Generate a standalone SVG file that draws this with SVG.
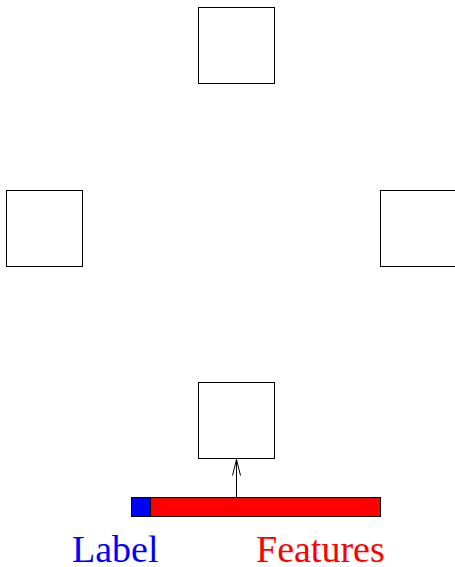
<svg xmlns="http://www.w3.org/2000/svg" width="455" height="567" viewBox="0 0 455 567">
<defs>
<style>
.box{fill:#fff;stroke:#000;stroke-width:1}
.conn{stroke:#000;stroke-width:1;fill:none}
.t{font-family:"Liberation Serif","Times New Roman",serif;font-size:38px}
</style>
<marker id="ah" markerWidth="20" markerHeight="10" refX="17" refY="5" orient="auto" markerUnits="userSpaceOnUse" viewBox="0 0 20 10">
<path d="M1,1 L17,5 L1,9" fill="none" stroke="#000" stroke-width="1"/>
</marker>
</defs>
<rect width="455" height="567" fill="#fff"/>
<g id="node-top"><rect class="box" x="198.5" y="7.5" width="76" height="76"/></g>
<g id="node-left"><rect class="box" x="6.5" y="190.5" width="76" height="76"/></g>
<g id="node-right"><rect class="box" x="380.5" y="190.5" width="80" height="76"/></g>
<g id="node-bottom"><rect class="box" x="198.5" y="382.5" width="76" height="76"/></g>
<g id="node-vector">
<rect x="131.5" y="497.5" width="249" height="19" fill="#f00" stroke="#000" stroke-width="1"/>
<rect x="131.5" y="497.5" width="19" height="19" fill="#00f" stroke="#000" stroke-width="1"/>
<text class="t" x="72" y="562" fill="#00f">Label</text>
<text class="t" x="256" y="562" fill="#f00">Features</text>
</g>
<g id="connectors">
<line class="conn" x1="236.5" y1="497" x2="236.5" y2="459.5" marker-end="url(#ah)"/>
</g>
</svg>
